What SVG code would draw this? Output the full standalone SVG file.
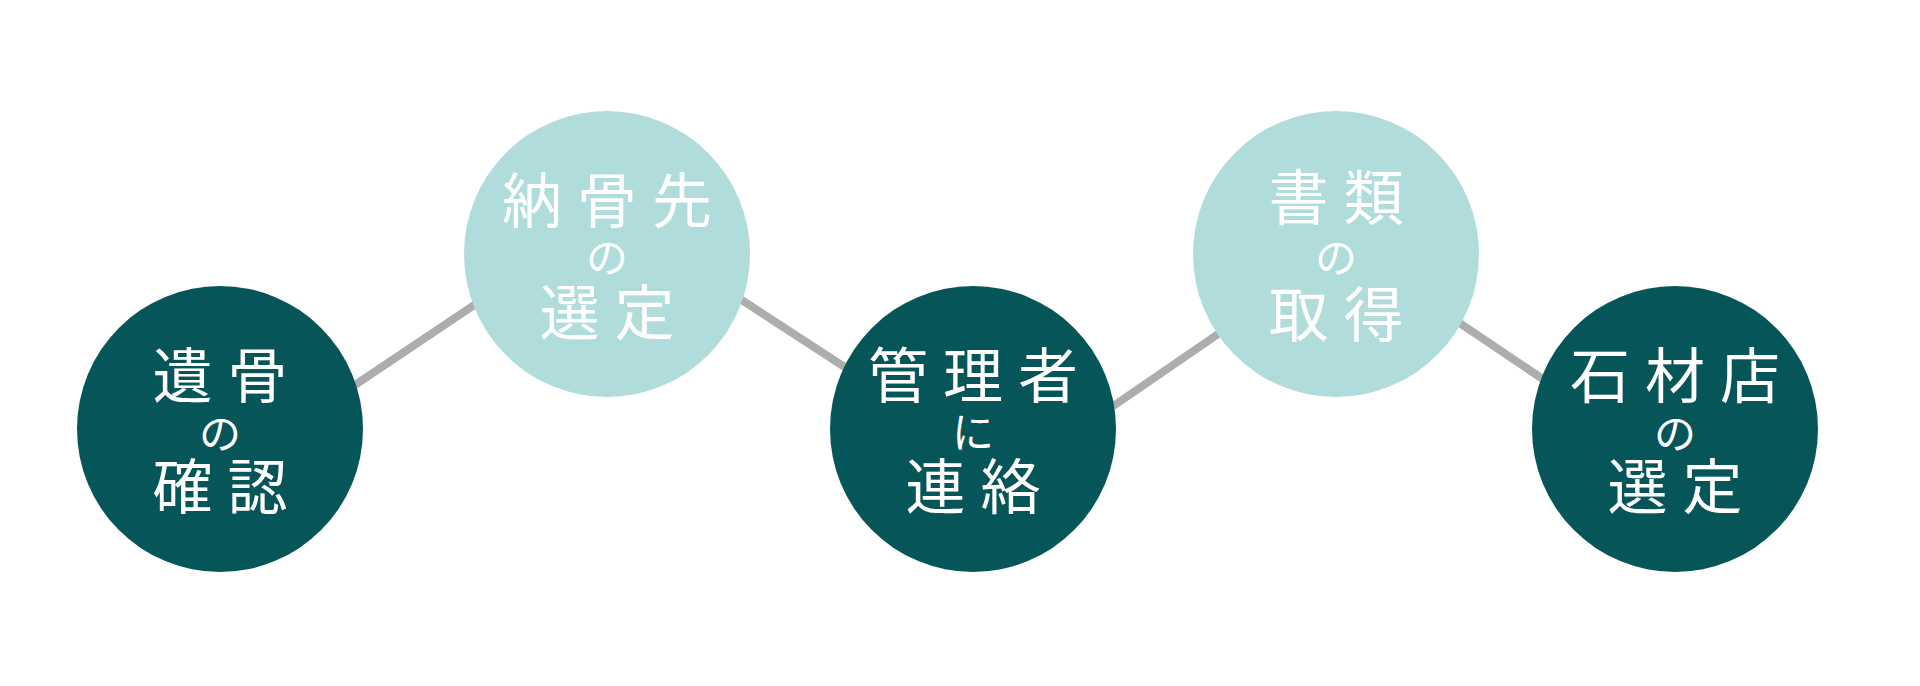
<svg xmlns="http://www.w3.org/2000/svg" width="1920" height="686" viewBox="0 0 1920 686">
  <style>
    .dark { fill: #065558; }
    .light { fill: #B0DCDB; }
    .conn { stroke: #ADADAD; stroke-width: 8; fill: none; }
    .label { font-family: "Noto Sans CJK JP", "Noto Sans", sans-serif; font-weight: 400; fill: #FFFFFF; text-anchor: middle; }
    .big { font-size: 60px; letter-spacing: 15px; }
    .small { font-size: 42px; letter-spacing: 0; }
  </style>
  <rect width="1920" height="686" fill="#FFFFFF"/>
  <g id="connectors">
    <line class="conn" x1="300" y1="421.9" x2="540" y2="260.9"/>
    <line class="conn" x1="680" y1="259.8" x2="900" y2="403.1"/>
    <line class="conn" x1="1050" y1="449.5" x2="1280" y2="291.5"/>
    <line class="conn" x1="1400" y1="282.9" x2="1600" y2="417.6"/>
  </g>
  <g id="node1">
    <circle class="dark" cx="220" cy="429" r="143"/>
    <text class="label"><tspan class="big" x="227.5" y="398">遺骨</tspan><tspan class="small" x="220" y="449">の</tspan><tspan class="big" x="227.5" y="509">確認</tspan></text>
  </g>
  <g id="node2">
    <circle class="light" cx="607" cy="254" r="143"/>
    <text class="label"><tspan class="big" x="614.5" y="223">納骨先</tspan><tspan class="small" x="607" y="273">の</tspan><tspan class="big" x="614.5" y="335">選定</tspan></text>
  </g>
  <g id="node3">
    <circle class="dark" cx="973" cy="429" r="143"/>
    <text class="label"><tspan class="big" x="980.5" y="398">管理者</tspan><tspan class="small" x="973" y="448">に</tspan><tspan class="big" x="980.5" y="509">連絡</tspan></text>
  </g>
  <g id="node4">
    <circle class="light" cx="1336" cy="254" r="143"/>
    <text class="label"><tspan class="big" x="1343.5" y="220">書類</tspan><tspan class="small" x="1336" y="273">の</tspan><tspan class="big" x="1343.5" y="337">取得</tspan></text>
  </g>
  <g id="node5">
    <circle class="dark" cx="1675" cy="429" r="143"/>
    <text class="label"><tspan class="big" x="1682.5" y="398">石材店</tspan><tspan class="small" x="1675" y="449">の</tspan><tspan class="big" x="1682.5" y="509">選定</tspan></text>
  </g>
</svg>
